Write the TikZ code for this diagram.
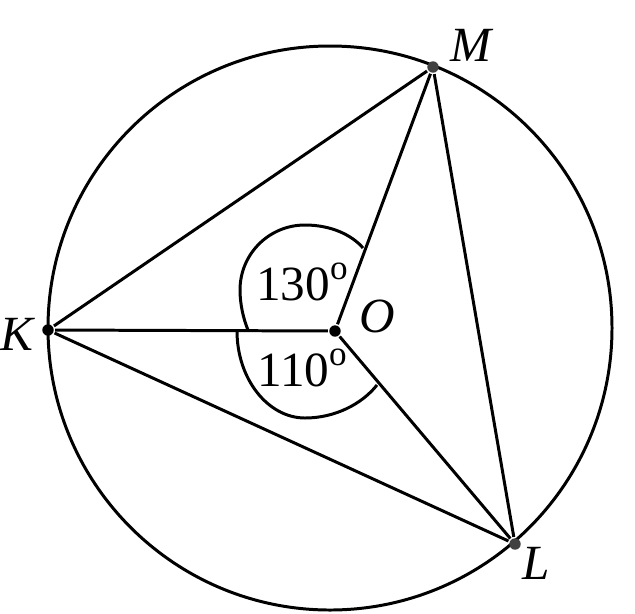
\documentclass[tikz,border=0pt]{standalone}
\usepackage{fontspec}
\setmainfont{Liberation Serif}
\usetikzlibrary{positioning}
\newcommand{\degsign}{\raisebox{12pt}{\fontsize{20}{20}\selectfont o}}

\begin{document}
\begin{tikzpicture}[x=0.02cm,y=-0.02cm,line width=1.7pt]
  \tikzset{pt/.style = {circle,fill=black,inner sep=0pt,minimum size=6.5pt}}
  \tikzset{vlabel/.style = {font=\fontsize{28}{30}\selectfont\itshape}}
  \tikzset{alabel/.style = {font=\fontsize{28}{30}\selectfont}}
  \useasboundingbox (0,0) rectangle (635,613);
  %\draw[help lines] (0,0) grid (635,613);
  \draw (330,328) circle [radius=282];

  \node[pt] (K) at (48,330) {};
  \node[pt] (O) at (335,331) {};
  \node[pt,fill=black!75] (M) at (433,67) {};
  \node[pt,fill=black!75] (L) at (515,544) {};

  \draw (K) -- (M);
  \draw (K) -- (O);
  \draw (K) -- (L);
  \draw (O) -- (M);
  \draw (O) -- (L);
  \draw (M) -- (L);

  % angle marks
  \draw (248,330) .. controls (243,318) and (240,303) .. (240,290)
        .. controls (240,254) and (269,225) .. (305,225)
        .. controls (331,225) and (352,235) .. (363,248);
  \draw (237,331) .. controls (237,379) and (268,418) .. (305,418)
        .. controls (335,418) and (362,404) .. (377,385);

  \node[alabel] (a130) at (302,282) {130\degsign};
  \node[alabel] (a110) at (302,368) {110\degsign};

  \node[vlabel] (Kname) at (17,334) {K};
  \node[vlabel] (Oname) at (377,316) {O};
  \node[vlabel] (Mname) at (471,45) {M};
  \node[vlabel] (Lname) at (536,563) {L};
\end{tikzpicture}
\end{document}
